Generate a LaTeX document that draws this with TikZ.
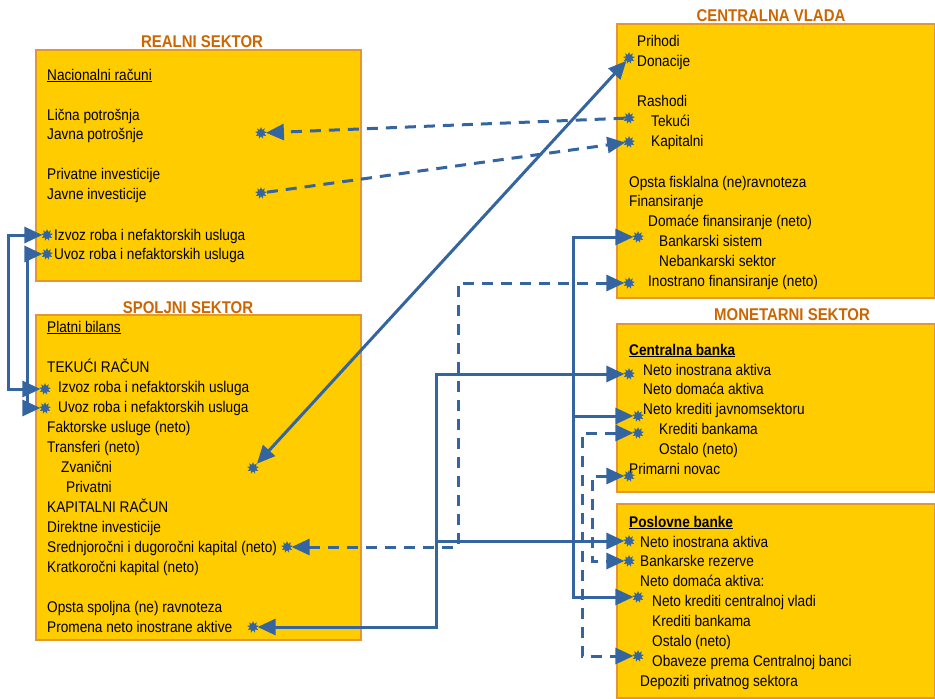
\documentclass[tikz,border=0pt]{standalone}
\usepackage{fontspec}
\setmainfont{Liberation Sans}[FakeStretch=0.88]
\usetikzlibrary{arrows.meta,shapes.geometric}

\definecolor{boxfill}{RGB}{255,204,0}
\definecolor{boxline}{RGB}{228,150,50}
\definecolor{titlec}{RGB}{204,102,0}
\definecolor{linkc}{RGB}{52,101,160}

\tikzset{
  sector/.style={draw=boxline, fill=boxfill, line width=1.5pt, anchor=north west, inner sep=0},
  sectitle/.style={anchor=base, inner sep=0, text=titlec, font=\fontsize{17}{20}\selectfont\bfseries},
  item/.style={anchor=base west, inner sep=0, font=\fontsize{15.5}{20}\selectfont},
  starmark/.style={star, star points=9, star point ratio=1.8, fill=linkc, inner sep=0, minimum size=12pt},
  link/.style={draw=linkc, line width=3pt, >={Triangle[length=18pt,width=16pt]}},
  dlink/.style={link, dash pattern=on 11pt off 8pt},
}

\begin{document}
\begin{tikzpicture}[x=1pt,y=-1pt]
\useasboundingbox (0,0) rectangle (935,699);

% sectors
\node[sector, minimum width=325pt, minimum height=231pt] (realni) at (35,49) {};
\node[sector, minimum width=325pt, minimum height=325pt] (spoljni) at (35,314) {};
\node[sector, minimum width=318pt, minimum height=274pt] (vlada) at (616,23) {};
\node[sector, minimum width=318pt, minimum height=168pt] (monetarni) at (616,323) {};
\node[sector, minimum width=318pt, minimum height=194pt] (poslovne) at (616,503) {};

\node[sectitle] (realniT) at (202,47) {REALNI SEKTOR};
\node[sectitle] (spoljniT) at (188,313) {SPOLJNI SEKTOR};
\node[sectitle] (vladaT) at (771,21) {CENTRALNA VLADA};
\node[sectitle] (monetarniT) at (792,320) {MONETARNI SEKTOR};

% texts
\foreach \x/\y/\txt [count=\i] in {47/80/{\underline{Nacionalni računi}}, 47/120/Lična potrošnja,
  47/139/Javna potrošnje, 47/179/Privatne investicije, 47/199/Javne investicije,
  54/240/Izvoz roba i nefaktorskih usluga, 54/259/Uvoz roba i nefaktorskih usluga}
  \node[item] (rs\i) at (\x,\y) {\txt};

\foreach \x/\y/\txt [count=\i] in {47/332/{\underline{Platni bilans}}, 47/372/TEKUĆI RAČUN,
  58/392/Izvoz roba i nefaktorskih usluga, 58/412/Uvoz roba i nefaktorskih usluga,
  47/432/Faktorske usluge (neto), 47/452/Transferi (neto), 61/472/Zvanični, 66/492/Privatni,
  47/512/KAPITALNI RAČUN, 47/532/Direktne investicije,
  47/552/Srednjoročni i dugoročni kapital (neto), 47/572/Kratkoročni kapital (neto),
  47/612/Opsta spoljna (ne) ravnoteza, 47/632/Promena neto inostrane aktive}
  \node[item] (sp\i) at (\x,\y) {\txt};

\foreach \x/\y/\txt [count=\i] in {637/46/Prihodi, 637/66/Donacije, 637/106/Rashodi,
  651/126/Tekući, 651/146/Kapitalni, 629/187/Opsta fisklalna (ne)ravnoteza,
  629/206/Finansiranje, 648/226/Domaće finansiranje (neto), 659/246/Bankarski sistem,
  659/266/Nebankarski sektor, 648/286/Inostrano finansiranje (neto)}
  \node[item] (cv\i) at (\x,\y) {\txt};

\foreach \x/\y/\txt [count=\i] in {629/355/{\textbf{\underline{Centralna banka}}},
  643/375/Neto inostrana aktiva, 643/394/Neto domaća aktiva, 643/414/Neto krediti javnomsektoru,
  659/434/Krediti bankama, 659/454/Ostalo (neto), 629/474/Primarni novac}
  \node[item] (cb\i) at (\x,\y) {\txt};

\foreach \x/\y/\txt [count=\i] in {629/527/{\textbf{\underline{Poslovne banke}}},
  640/547/Neto inostrana aktiva, 640/566/Bankarske rezerve, 640/586/Neto domaća aktiva:,
  652/606/Neto krediti centralnoj vladi, 652/626/Krediti bankama, 652/646/Ostalo (neto),
  652/666/Obaveze prema Centralnoj banci, 640/686/Depoziti privatnog sektora}
  \node[item] (pb\i) at (\x,\y) {\txt};

% marks
\foreach \n/\x/\y in {rIzvoz/47/235, rUvoz/47/254, rJavnaP/261/133, rJavneI/261/193,
  sIzvoz/45/389, sUvoz/45/408, sZvan/253/468, sSred/287/547, sProm/253/627,
  cvDon/629/58, cvTek/629/118, cvKap/629/142, cvBank/638/237, cvIno/629/283,
  cbNIA/629/374, cbNKJ/638/416, cbKB/638/433, cbPN/629/476,
  pbNIA/629/541, pbBR/629/561, pbNKC/638/597, pbObv/638/656}
  \node[starmark] (\n) at (\x,\y) {};

\coordinate (loopA) at (8,0);
\coordinate (loopB) at (27,0);
\coordinate (spX) at (436,0);
\coordinate (dashX) at (458,0);
\coordinate (govX) at (573,0);
\coordinate (bankX) at (582,0);
\coordinate (resX) at (592,0);

% links
\draw[link,<->] (rIzvoz) -- (rIzvoz -| loopA) |- (sIzvoz);
\draw[link,<->] (rUvoz) -- (rUvoz -| loopB) |- (sUvoz);
\draw[dlink,->] (cvTek) -- (rJavnaP);
\draw[dlink,->] (rJavneI) -- (cvKap);
\draw[link,<->] (sZvan) -- (cvDon);
\draw[dlink,<->] (sSred) -| (cvIno -| dashX) -- (cvIno);
\draw[link,<->] (sProm) -| (cbNIA -| spX) -- (cbNIA);
\draw[link,->] (pbNIA -| spX) -- (pbNIA);
\draw[link,<->] (cvBank) -| (pbNKC -| govX) -- (pbNKC);
\draw[link,->] (cbNKJ -| govX) -- (cbNKJ);
\draw[dlink,<->] (cbKB) -| (pbObv -| bankX) -- (pbObv);
\draw[dlink,<->] (cbPN) -| (pbBR -| resX) -- (pbBR);
\end{tikzpicture}
\end{document}
